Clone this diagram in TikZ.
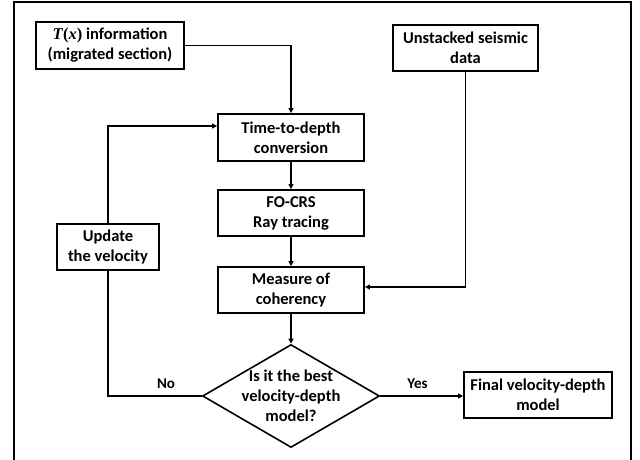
\documentclass[tikz,border=0pt]{standalone}
\usepackage{fontspec}
\setmainfont{Carlito}
\newfontfamily\serifmath{Liberation Serif}
\usetikzlibrary{arrows.meta,shapes.geometric,calc}
\newcommand{\mytx}{{\serifmath\bfseries\itshape T\/\upshape(\itshape x\/\upshape)}}
\begin{document}
\begin{tikzpicture}[x=1pt,y=-1pt,
  box/.style={draw,line width=1.8pt,inner sep=0pt,align=center,
    font=\fontsize{16.5}{20}\selectfont\bfseries},
  lbl/.style={font=\fontsize{15}{17}\selectfont\bfseries},
  conn/.style={line width=1.3pt},
  arr/.style={conn,-{Triangle[length=5pt,width=5pt]}}]
\useasboundingbox (0,0) rectangle (640,460);
\draw[line width=1.3pt] (14,465) -- (14,2) -- (631,2) -- (631,465);
\node[box,minimum width=148pt,minimum height=47pt] (tx) at (110,45.5) {\mytx{} information\\{}\string(migrated section\string)};
\node[box,minimum width=145pt,minimum height=46pt] (uns) at (465.5,48) {Unstacked seismic\\data};
\node[box,minimum width=146pt,minimum height=47pt] (tdc) at (291,137.5) {Time-to-depth\\conversion};
\node[box,minimum width=146pt,minimum height=46pt] (fo) at (291,213) {FO-CRS\\Ray tracing};
\node[box,minimum width=102pt,minimum height=46pt] (upd) at (108,247) {Update\\the velocity};
\node[box,minimum width=146pt,minimum height=46pt] (meas) at (291,290) {Measure of\\coherency};
\node[draw,line width=1.6pt,shape=diamond,inner sep=0pt,minimum width=177pt,minimum height=103pt,aspect=1.72] (dec) at (291,396) {};
\node[box,draw=none] (dect) at (291,396) {Is it the best\\velocity-depth\\model?};
\node[box,minimum width=148pt,minimum height=46pt] (fin) at (538,395) {Final velocity-depth\\model};
\draw[arr] (tx.east) -| (tdc.north);
\draw[arr] (tdc.south) -- (fo.north);
\draw[arr] (fo.south) -- (meas.north);
\draw[arr] (meas.south) -- (dec.north);
\draw[arr] (upd.north) |- ([yshift=11.5pt]tdc.west);
\draw[arr] (uns.south) |- ([yshift=3pt]meas.east);
\draw[conn] (upd.south) |- (dec.west);
\draw[arr] (dec.east) -- (dec.east -| fin.west);
\node[lbl] (no) at (166,384) {No};
\node[lbl] (yes) at (417.5,384) {Yes};
\end{tikzpicture}
\end{document}
